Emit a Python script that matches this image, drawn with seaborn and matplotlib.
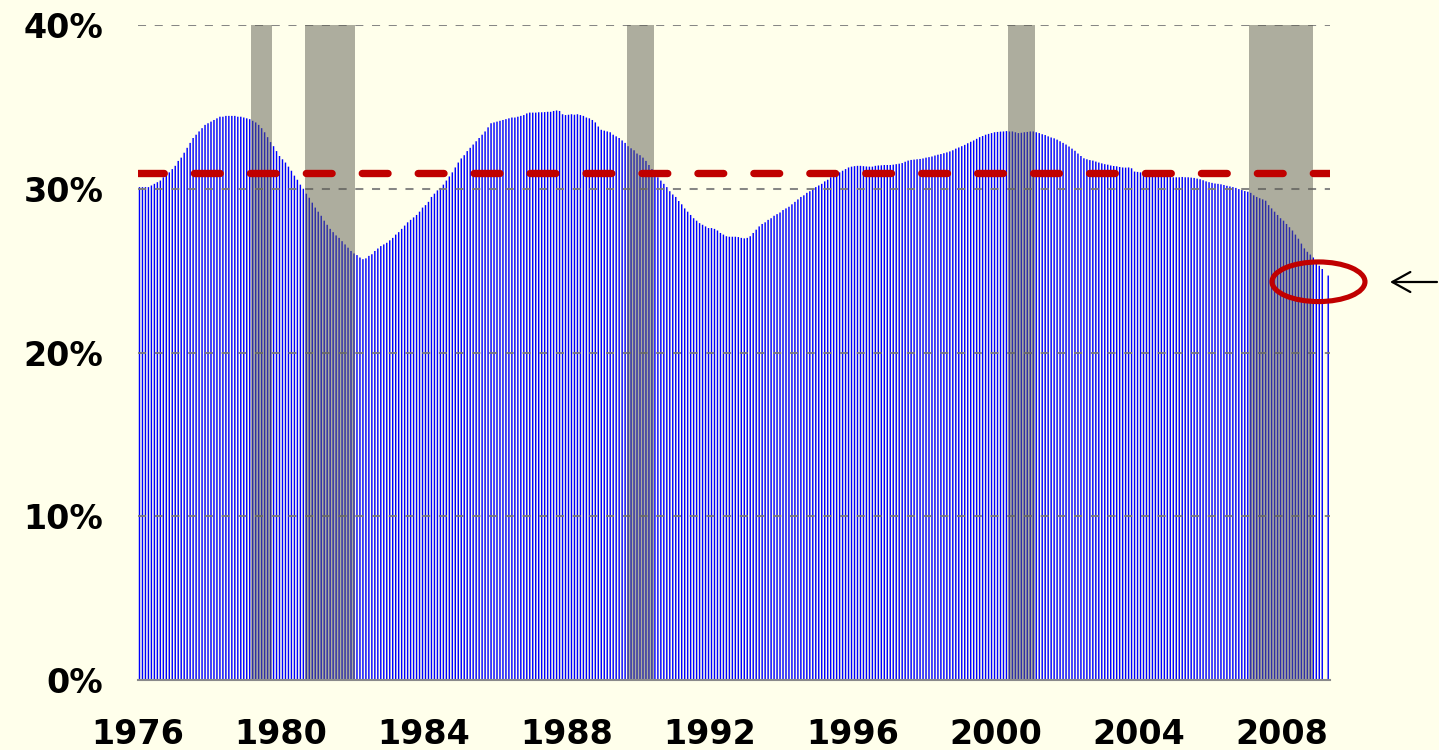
import numpy as np
import pandas as pd
import matplotlib
matplotlib.use("Agg")
import matplotlib.pyplot as plt
from matplotlib.patches import Ellipse
import seaborn as sns

# ---------------- data ----------------
start_year = 1976
monthly_share = [
    30.1, 30.1, 30.1, 30.1, 30.2, 30.3, 30.4, 30.5, 30.7, 30.8, 31.0, 31.2,          # 1976
    31.4, 31.7, 31.9, 32.2, 32.5, 32.8, 33.1, 33.3, 33.5, 33.7, 33.9, 34.0,          # 1977
    34.1, 34.2, 34.3, 34.4, 34.4, 34.45, 34.45, 34.45, 34.45, 34.4, 34.4, 34.35,     # 1978
    34.3, 34.25, 34.15, 34.05, 33.9, 33.7, 33.45, 33.15, 32.85, 32.6, 32.3, 32.0,    # 1979
    31.8, 31.6, 31.35, 31.1, 30.8, 30.55, 30.25, 30.0, 29.7, 29.45, 29.15, 28.85,    # 1980
    28.6, 28.35, 28.05, 27.8, 27.55, 27.35, 27.15, 27.0, 26.8, 26.6, 26.4, 26.2,     # 1981
    26.05, 25.95, 25.8, 25.7, 25.75, 25.9, 26.0, 26.2, 26.35, 26.5, 26.6, 26.7,      # 1982
    26.85, 27.0, 27.2, 27.35, 27.55, 27.75, 27.95, 28.1, 28.25, 28.4, 28.6, 28.85,   # 1983
    29.0, 29.2, 29.5, 29.7, 29.9, 30.05, 30.25, 30.5, 30.75, 31.0, 31.3, 31.6,       # 1984
    31.85, 32.05, 32.3, 32.5, 32.7, 32.9, 33.1, 33.3, 33.5, 33.75, 34.0, 34.05,      # 1985
    34.1, 34.15, 34.2, 34.25, 34.3, 34.35, 34.35, 34.4, 34.45, 34.5, 34.6, 34.65,    # 1986
    34.65, 34.65, 34.67, 34.67, 34.68, 34.7, 34.7, 34.75, 34.78, 34.75, 34.55, 34.5, # 1987
    34.52, 34.55, 34.52, 34.55, 34.5, 34.45, 34.35, 34.3, 34.2, 34.05, 33.8, 33.6,   # 1988
    33.55, 33.5, 33.45, 33.3, 33.2, 33.1, 32.95, 32.8, 32.6, 32.47, 32.35, 32.15,    # 1989
    32.05, 31.9, 31.7, 31.45, 31.2, 30.95, 30.7, 30.5, 30.3, 30.1, 29.85, 29.65,     # 1990
    29.5, 29.25, 29.05, 28.8, 28.6, 28.4, 28.2, 28.05, 27.9, 27.8, 27.7, 27.6,       # 1991
    27.6, 27.55, 27.45, 27.3, 27.2, 27.1, 27.07, 27.07, 27.07, 27.05, 27.0, 26.97,   # 1992
    27.0, 27.1, 27.3, 27.5, 27.7, 27.85, 27.95, 28.1, 28.2, 28.35, 28.45, 28.55,     # 1993
    28.7, 28.8, 28.9, 29.05, 29.2, 29.35, 29.5, 29.6, 29.75, 29.85, 30.0, 30.1,      # 1994
    30.2, 30.3, 30.45, 30.55, 30.7, 30.8, 30.9, 31.0, 31.1, 31.2, 31.3, 31.35,       # 1995
    31.38, 31.4, 31.4, 31.38, 31.36, 31.35, 31.35, 31.4, 31.42, 31.43, 31.45, 31.45, # 1996
    31.45, 31.47, 31.5, 31.53, 31.57, 31.65, 31.72, 31.76, 31.78, 31.8, 31.82, 31.85,# 1997
    31.9, 31.93, 31.97, 32.03, 32.08, 32.12, 32.17, 32.22, 32.28, 32.35, 32.45, 32.52,# 1998
    32.6, 32.68, 32.78, 32.87, 32.95, 33.05, 33.15, 33.22, 33.3, 33.35, 33.4, 33.45, # 1999
    33.47, 33.49, 33.5, 33.52, 33.5, 33.5, 33.45, 33.4, 33.42, 33.45, 33.47, 33.5,   # 2000
    33.5, 33.45, 33.4, 33.33, 33.28, 33.2, 33.13, 33.08, 33.0, 32.9, 32.8, 32.7,     # 2001
    32.58, 32.45, 32.32, 32.15, 32.0, 31.86, 31.8, 31.75, 31.72, 31.66, 31.6, 31.55, # 2002
    31.5, 31.47, 31.42, 31.39, 31.37, 31.33, 31.3, 31.29, 31.3, 31.25, 31.05, 31.03, # 2003
    31.0, 30.95, 30.92, 30.9, 30.86, 30.84, 30.82, 30.8, 30.78, 30.76, 30.73, 30.7,  # 2004
    30.7, 30.7, 30.72, 30.7, 30.7, 30.68, 30.66, 30.62, 30.58, 30.52, 30.45, 30.4,   # 2005
    30.36, 30.32, 30.3, 30.27, 30.23, 30.18, 30.14, 30.1, 30.05, 29.98, 29.92, 29.86,# 2006
    29.82, 29.75, 29.6, 29.5, 29.42, 29.35, 29.27, 29.0, 28.8, 28.6, 28.4, 28.2,     # 2007
    28.05, 27.85, 27.65, 27.45, 27.2, 26.95, 26.65, 26.36, 26.15, 25.98, 25.8, 25.5, # 2008
    25.3, 25.1, np.nan, 24.7,                                                        # 2009
]
mean_level = 30.95
recessions = [(1979.17, 1979.75), (1980.67, 1982.08), (1989.67, 1990.42),
              (2000.33, 2001.08), (2007.08, 2008.88)]
year_ticks = [1976, 1980, 1984, 1988, 1992, 1996, 2000, 2004, 2008]
year_labels = ["1976", "1980", "1984", "1988", "1992", "1996", "2000", "2004", "2008"]
pct_ticks = [0, 10, 20, 30, 40]
pct_labels = ["0%", "10%", "20%", "30%", "40%"]
highlight_center = (2009.02, 24.32)
highlight_size = (2.60, 2.42)

# ---------------- figure ----------------
bg = "#FFFFEB"
sns.set_style("white")
plt.rcParams["font.family"] = ["DejaVu Sans"]

n = len(monthly_share)
df = pd.DataFrame({
    "date": start_year + (np.arange(n) + 0.5) / 12.0,
    "share": monthly_share,
})

fig = plt.figure(figsize=(14.39, 7.5), dpi=100, facecolor=bg)
ax = fig.add_axes([138 / 1439, 70 / 750, 1191.7 / 1439, 655 / 750])
ax.set_facecolor(bg)

sns.barplot(data=df, x="date", y="share", native_scale=True, width=0.48,
            color="#0000FF", saturation=1, linewidth=0, errorbar=None,
            ax=ax, zorder=2, snap=False)

# gridlines
for v in pct_ticks[1:]:
    ax.axhline(v, color="#7a7a7a", lw=1.45, linestyle=(0, (4, 4.3)), zorder=3, alpha=0.9)

# recession shading
for a, b in recessions:
    ax.axvspan(a, b, ymin=0, ymax=1, facecolor=(0.36, 0.36, 0.32), alpha=0.5,
               lw=0, zorder=4)

# mean line
ax.axhline(mean_level, color="#C00000", lw=5.3, linestyle=(0, (3.5, 4.1)),
           dash_capstyle="round", zorder=5)

ax.set_xlim(start_year, start_year + n / 12.0)
ax.set_ylim(0, 40)
ax.set_xticks(year_ticks)
ax.set_xticklabels(year_labels)
ax.set_yticks(pct_ticks)
ax.set_yticklabels(pct_labels)
ax.set_xlabel("")
ax.set_ylabel("")

for s in ["top", "right", "left"]:
    ax.spines[s].set_visible(False)
ax.spines["bottom"].set_color("#8a8a8a")
ax.spines["bottom"].set_linewidth(1.5)
ax.spines["bottom"].set_zorder(6)

ax.tick_params(axis="x", direction="out", length=7.5, width=1.3, color="#8a8a8a",
               pad=20, labelsize=24)
ax.tick_params(axis="y", length=0, pad=25, labelsize=24)
for lab in ax.get_xticklabels() + ax.get_yticklabels():
    lab.set_fontweight("bold")
    lab.set_color("black")

# highlight ellipse
ell = Ellipse(highlight_center, highlight_size[0], highlight_size[1], fill=False,
              edgecolor="#C00000", lw=3.7, clip_on=False, zorder=7)
ax.add_patch(ell)

# arrow pointing at ellipse
ax.annotate("", xy=(1390, 468), xycoords="figure pixels",
            xytext=(1437, 468), textcoords="figure pixels",
            arrowprops=dict(arrowstyle="->,head_length=0.65,head_width=0.36",
                            lw=1.6, color="black", mutation_scale=20,
                            shrinkA=0, shrinkB=0))

fig.savefig("out.png", dpi=100, facecolor=bg)
